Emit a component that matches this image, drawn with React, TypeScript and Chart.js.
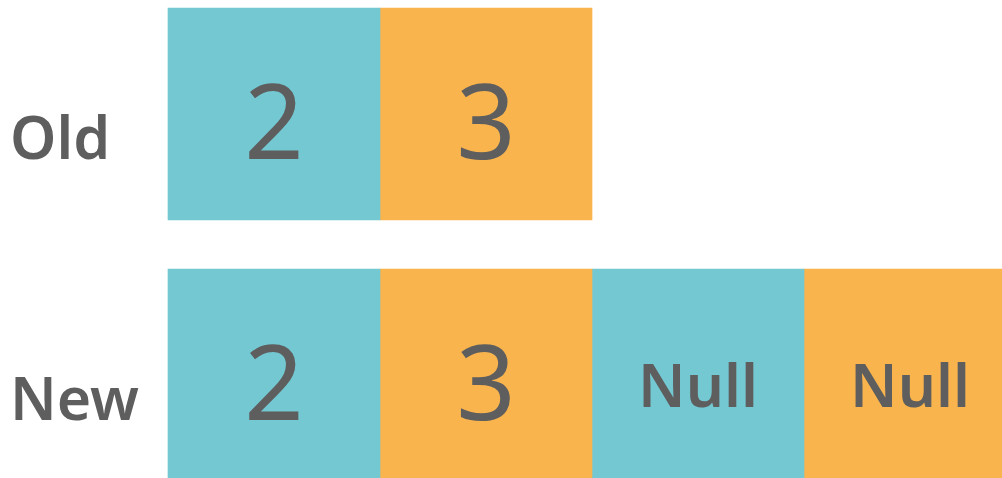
import React, { useEffect, useRef } from "react";
import { Chart, registerables } from "chart.js";

Chart.register(...registerables);

// ---- data ----
const rowLabels = ["Old", "New"];
const oldCells = ["2", "3"];
const newCells = ["2", "3", "Null", "Null"];
const slotCount = 4;
const slotColors = ["#74C8D2", "#F9B44E", "#74C8D2", "#F9B44E"];

const rowCells = [oldCells, newCells];

const TEXT_COLOR = "#5E5E5E";
const FONT = "'Noto Sans', 'Open Sans', sans-serif";

const cellTextPlugin = {
  id: "cellText",
  afterDatasetsDraw(chart: any) {
    const ctx = chart.ctx;
    ctx.save();
    ctx.fillStyle = TEXT_COLOR;
    ctx.textAlign = "center";
    ctx.textBaseline = "alphabetic";
    chart.data.datasets.forEach((_ds: any, i: number) => {
      const meta = chart.getDatasetMeta(i);
      meta.data.forEach((bar: any, j: number) => {
        const txt = rowCells[j][i];
        if (txt === undefined) return;
        const { x, y, base } = bar.getProps(["x", "y", "base"], true);
        const cx = (x + base) / 2;
        const isNum = /^\d+$/.test(txt);
        if (isNum) {
          ctx.font = `400 104px ${FONT}`;
          ctx.fillText(txt, cx, y + 45);
        } else {
          ctx.font = `600 60px ${FONT}`;
          ctx.fillText(txt, cx, y + 32);
        }
      });
    });
    ctx.restore();
  },
};

export default function App() {
  const ref = useRef<HTMLCanvasElement | null>(null);

  useEffect(() => {
    if (!ref.current) return;
    const datasets = Array.from({ length: slotCount }, (_, i) => ({
      label: `slot ${i + 1}`,
      data: rowCells.map((cells) => (cells[i] !== undefined ? 1 : null)),
      backgroundColor: slotColors[i],
      borderWidth: 0,
      barThickness: 212,
      clip: false as any,
    }));
    const chart = new Chart(ref.current, {
      type: "bar",
      data: { labels: rowLabels, datasets },
      options: {
        indexAxis: "y",
        animation: false,
        responsive: true,
        maintainAspectRatio: false,
        layout: { padding: { left: 10, top: 114, bottom: 103, right: 0 } },
        plugins: {
          legend: { display: false },
          tooltip: { enabled: false },
        },
        scales: {
          x: {
            stacked: true,
            min: 0,
            max: slotCount,
            display: false,
          },
          y: {
            stacked: true,
            offset: false,
            grid: { display: false },
            border: { display: false },
            afterFit: (scale: any) => {
              scale.width = 158;
            },
            ticks: {
              crossAlign: "far",
              labelOffset: 28,
              padding: 0,
              color: TEXT_COLOR,
              font: { family: FONT, size: 59, weight: "600" as any },
            },
          },
        },
      },
      plugins: [cellTextPlugin],
    });
    return () => chart.destroy();
  }, []);

  return (
    <div
      style={{
        position: "absolute",
        left: 0,
        top: 0,
        width: 1002,
        height: 478,
        overflow: "hidden",
        background: "#fff",
      }}
    >
      <div style={{ position: "relative", width: 1016, height: 478 }}>
        <canvas ref={ref} />
      </div>
    </div>
  );
}
